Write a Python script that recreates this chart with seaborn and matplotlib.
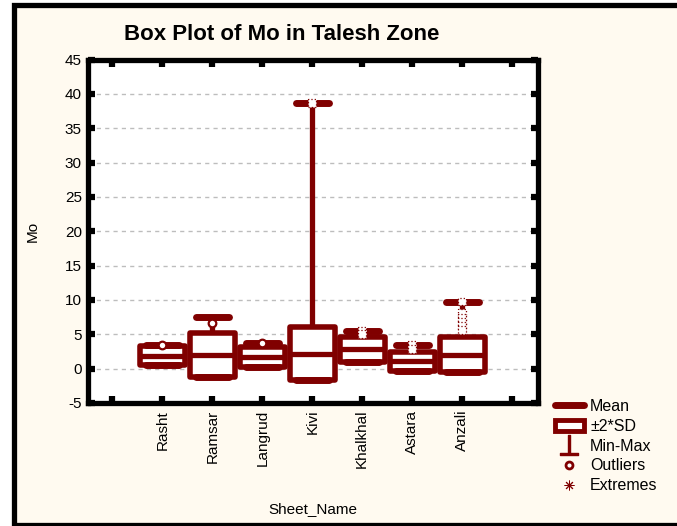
import numpy as np
import pandas as pd
import matplotlib
matplotlib.use("Agg")
import matplotlib.pyplot as plt
from matplotlib.lines import Line2D
from matplotlib.patches import Patch, Rectangle
import seaborn as sns

# values (Mo, ppm)
sheets = ["Rasht", "Ramsar", "Langrud", "Kivi", "Khalkhal", "Astara", "Anzali"]
mo_mean = [1.9, 2.05, 1.7, 2.2, 2.8, 1.05, 2.05]
mo_sd = [0.7, 1.6, 0.75, 1.9, 0.9, 0.68, 1.28]
mo_min = [0.6, 0.4, 0.4, 0.3, 1.0, 0.2, 0.3]
mo_max = [3.5, 7.5, 3.8, 38.7, 5.5, 3.5, 9.7]

outlier_sheet = ["Rasht", "Ramsar", "Langrud"]
outlier_val = [3.5, 6.7, 3.7]
extreme_sheet = ["Kivi", "Khalkhal", "Khalkhal", "Astara", "Astara",
                 "Anzali", "Anzali", "Anzali", "Anzali", "Anzali", "Anzali"]
extreme_val = [38.7, 5.5, 5.0, 3.4, 2.9, 9.8, 8.1, 7.4, 6.8, 6.2, 5.6]

yticks = [-5, 0, 5, 10, 15, 20, 25, 30, 35, 40, 45]

# empty slots on both sides like the original
order = [""] + sheets + [" "]
red = "#800000"
cream = "#fffaf0"

# box = mean +/- 2*SD, whiskers = min/max  -> 5 points per sheet give exactly that
rows = []
for s, m, sd, mn, mx in zip(sheets, mo_mean, mo_sd, mo_min, mo_max):
    lo, hi = m - 2 * sd, m + 2 * sd
    for v in [min(mn, lo), lo, m, hi, mx]:
        rows.append({"Sheet_Name": s, "Mo": v})
df = pd.DataFrame(rows)
df_out = pd.DataFrame({"Sheet_Name": outlier_sheet, "Mo": outlier_val})
df_ext = pd.DataFrame({"Sheet_Name": extreme_sheet, "Mo": extreme_val})

sns.set_theme(style="white")
plt.rcParams["font.family"] = ["Liberation Sans", "DejaVu Sans"]
plt.rcParams["axes.unicode_minus"] = False
for k in ["text.color", "axes.labelcolor", "xtick.color", "ytick.color"]:
    plt.rcParams[k] = "black"

fig = plt.figure(figsize=(6.77, 5.26), dpi=100, facecolor="white")
fig.patches.append(Rectangle((13.5 / 677, 1.5 / 526), 1.0, 1 - 6 / 526,
                             transform=fig.transFigure, facecolor=cream,
                             edgecolor="black", linewidth=3.8, zorder=-10))
ax = fig.add_axes([87.5 / 677, 1 - 403 / 526, (538 - 87.5) / 677, (403 - 59.5) / 526])
ax.set_facecolor("white")

sns.boxplot(data=df, x="Sheet_Name", y="Mo", order=order, ax=ax,
            whis=(0, 100), showfliers=False, width=0.9, color="white",
            linecolor=red, linewidth=4,
            boxprops=dict(joinstyle="round"),
            medianprops=dict(linewidth=3.8, solid_capstyle="butt"),
            whiskerprops=dict(linewidth=3.8),
            capprops=dict(linewidth=5, solid_capstyle="round"),
            capwidths=0.66)

sns.stripplot(data=df_out, x="Sheet_Name", y="Mo", order=order, ax=ax,
              jitter=False, color="white", edgecolor=red, linewidth=1.6,
              size=5.5, zorder=5)
sns.stripplot(data=df_ext, x="Sheet_Name", y="Mo", order=order, ax=ax,
              jitter=False, color="white", edgecolor=red, linewidth=0.9,
              size=5.5, marker="s", linestyle=":", zorder=6)

ax.set_xlim(-0.5, 8.52)
ax.set_ylim(-5, 45)
ax.set_yticks(yticks)
ax.yaxis.grid(True, linestyle=(0, (3, 3)), color="#bdbdbd", linewidth=1)
ax.set_axisbelow(True)
for sp in ax.spines.values():
    sp.set_linewidth(3.8)
    sp.set_color("black")
    sp.set_visible(True)
    sp.set_zorder(1)
ax.tick_params(axis="both", direction="in", length=5, width=4.5, color="black",
               left=True, bottom=True, top=True, right=True, labelsize=11, pad=4)
ax.tick_params(axis="x", rotation=90, pad=5)
ax.set_xlabel("Sheet_Name", fontsize=11, labelpad=24)
ax.set_ylabel("Mo", fontsize=11, labelpad=18)

fig.text(282 / 677, 1 - 35 / 526, "Box Plot of Mo in Talesh Zone",
         ha="center", va="center", fontsize=16, fontweight="bold")

handles = [
    Line2D([0], [0], color=red, lw=5, solid_capstyle="round"),
    Patch(facecolor="white", edgecolor=red, linewidth=3.5),
    Line2D([0], [0], color=red, lw=0, marker=r"$\perp$", markersize=14),
    Line2D([0], [0], color=red, lw=0, marker="o", markerfacecolor="white",
           markeredgecolor=red, markersize=5, markeredgewidth=2),
    Line2D([0], [0], color=red, lw=0, marker=(8, 2, 0), markersize=7,
           markeredgewidth=0.7),
]
labels = ["Mean", "±2*SD", "Min-Max", "Outliers", "Extremes"]
fig.legend(handles, labels, loc="upper left", bbox_to_anchor=(547 / 677, 1 - 391 / 526),
           frameon=False, fontsize=11.5, handlelength=1.8, handletextpad=0.4,
           labelspacing=0.3, borderpad=0)

fig.savefig("out.png", dpi=100, facecolor="white")
